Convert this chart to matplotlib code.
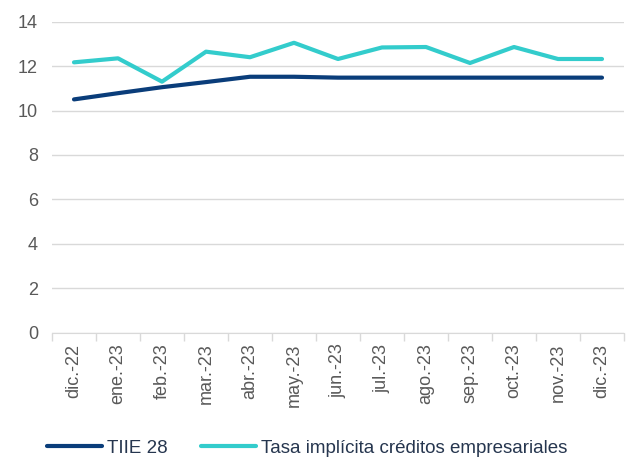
import matplotlib
matplotlib.use("Agg")
import matplotlib.pyplot as plt
import numpy as np

plt.rcParams['font.family'] = ['Liberation Sans', 'DejaVu Sans']

meses = ['dic.-22', 'ene.-23', 'feb.-23', 'mar.-23', 'abr.-23', 'may.-23', 'jun.-23',
         'jul.-23', 'ago.-23', 'sep.-23', 'oct.-23', 'nov.-23', 'dic.-23']
tiie28 = [10.50, 10.78, 11.05, 11.28, 11.52, 11.52, 11.48, 11.48, 11.48, 11.48, 11.48, 11.48, 11.48]
tasa_implicita = [12.17, 12.35, 11.30, 12.65, 12.40, 13.05, 12.32, 12.84, 12.86, 12.14, 12.86, 12.32, 12.32]

fig = plt.figure(figsize=(6.28, 4.58), dpi=100)
ax = fig.add_axes([52/628, 1-332.5/458, 572/628, (332.5-21.7)/458])

x = np.arange(len(meses))
ax.plot(x, tiie28, color='#0A3D7A', lw=3.0, solid_capstyle='round', label='TIIE 28')
ax.plot(x, tasa_implicita, color='#33CCCC', lw=3.0, solid_capstyle='round',
        label='Tasa implícita créditos empresariales')

ax.set_xlim(-0.5, len(meses) - 0.5)
ax.set_ylim(0, 14)
ax.set_yticks(range(0, 15, 2))
ax.grid(axis='y', color='#D9D9D9', lw=1)
ax.set_axisbelow(True)

# ticks entre categorias
ax.set_xticks(x)
ax.set_xticklabels(meses, rotation=90, fontsize=13, color='#595959')
ax.tick_params(axis='x', length=0, pad=8)
ax.set_xticks(np.arange(-0.5, len(meses)), minor=True)
ax.tick_params(axis='x', which='minor', length=6, color='#D9D9D9', width=1)
ax.tick_params(axis='y', length=0, labelsize=13, labelcolor='#595959', pad=10)

for s in ['top', 'right', 'left']:
    ax.spines[s].set_visible(False)
ax.spines['bottom'].set_color('#D9D9D9')

fig.legend(loc='center left', bbox_to_anchor=(47/628, 1-448/458), ncol=2, frameon=False,
           fontsize=13.5, handlelength=2.93, columnspacing=1.76, handletextpad=0.27,
           borderpad=0, borderaxespad=0, labelcolor='#26364F')

fig.savefig('out.png', dpi=100)
